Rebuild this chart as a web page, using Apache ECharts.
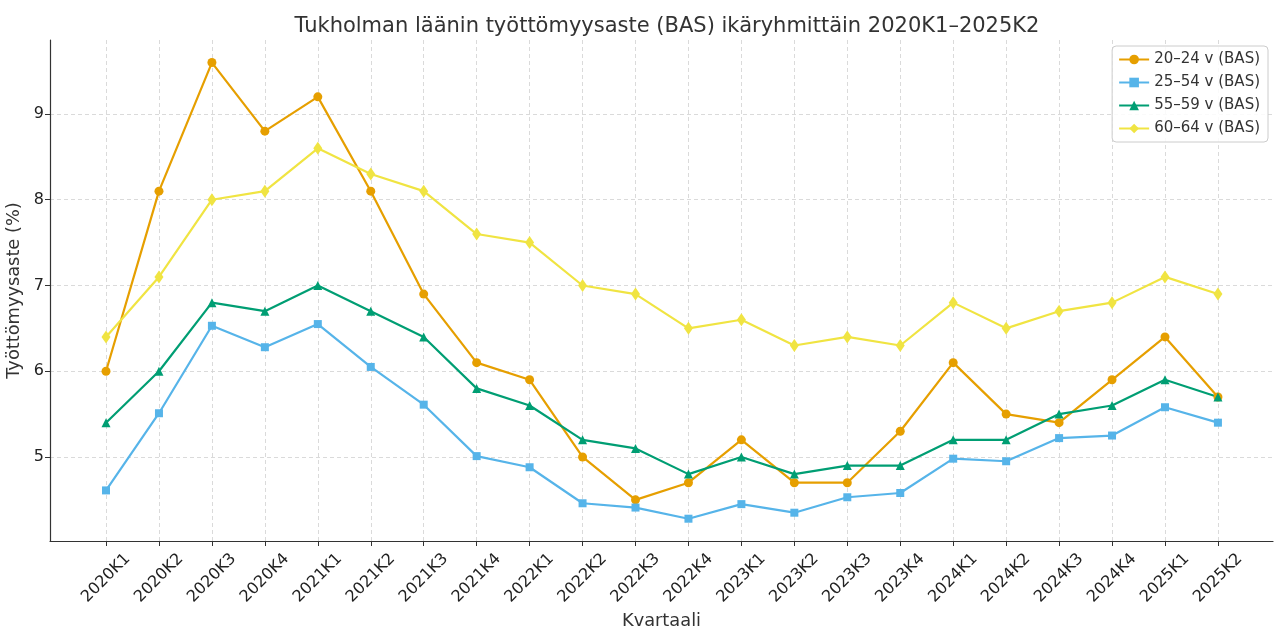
<!DOCTYPE html>
<html>
<head>
<meta charset="utf-8">
<script src="https://cdn.jsdelivr.net/npm/echarts@6/dist/echarts.min.js"></script>
<style>
  html, body { margin: 0; padding: 0; background: #fff; }
  #main { width: 1274px; height: 630px; }
</style>
</head>
<body>
<div id="main"></div>
<script>
// kvartaalit
var quarters = ['2020K1','2020K2','2020K3','2020K4','2021K1','2021K2','2021K3','2021K4',
  '2022K1','2022K2','2022K3','2022K4','2023K1','2023K2','2023K3','2023K4',
  '2024K1','2024K2','2024K3','2024K4','2025K1','2025K2'];
// työttömyysaste (%)
var age2024 = [6.0, 8.1, 9.6, 8.8, 9.2, 8.1, 6.9, 6.1, 5.9, 5.0, 4.5, 4.7, 5.2, 4.7, 4.7, 5.3, 6.1, 5.5, 5.4, 5.9, 6.4, 5.7];
var age2554 = [4.61, 5.51, 6.53, 6.28, 6.55, 6.05, 5.61, 5.01, 4.88, 4.46, 4.41, 4.28, 4.45, 4.35, 4.53, 4.58, 4.98, 4.95, 5.22, 5.25, 5.58, 5.40];
var age5559 = [5.4, 6.0, 6.8, 6.7, 7.0, 6.7, 6.4, 5.8, 5.6, 5.2, 5.1, 4.8, 5.0, 4.8, 4.9, 4.9, 5.2, 5.2, 5.5, 5.6, 5.9, 5.7];
var age6064 = [6.4, 7.1, 8.0, 8.1, 8.6, 8.3, 8.1, 7.6, 7.5, 7.0, 6.9, 6.5, 6.6, 6.3, 6.4, 6.3, 6.8, 6.5, 6.7, 6.8, 7.1, 6.9];
var yTicks = [5, 6, 7, 8, 9];

var font = '"DejaVu Sans", sans-serif';
var xIdx = quarters.map(function (q, i) { return i; });

function pairs(arr) {
  return arr.map(function (v, i) { return [i, v]; });
}
function mkSeries(name, arr, color, symbol, size) {
  return {
    name: name,
    type: 'line',
    data: pairs(arr),
    symbol: symbol,
    symbolSize: size,
    lineStyle: { color: color, width: 2.2 },
    itemStyle: { color: color },
    emphasis: { disabled: true },
    animation: false
  };
}

var chart = echarts.init(document.getElementById('main'));
chart.setOption({
  backgroundColor: '#fff',
  textStyle: { fontFamily: font },
  title: {
    text: 'Tukholman läänin työttömyysaste (BAS) ikäryhmittäin 2020K1–2025K2',
    left: 662, top: 11, textAlign: 'center',
    textStyle: { fontFamily: font, fontSize: 21, fontWeight: 'normal', color: '#333' }
  },
  legend: {
    orient: 'vertical',
    right: 6, top: 46,
    padding: [6, 8, 6, 6],
    itemGap: 8,
    itemWidth: 30, itemHeight: 12,
    backgroundColor: 'rgba(255,255,255,0.85)',
    borderColor: '#ccc', borderWidth: 1, borderRadius: 4,
    textStyle: { fontFamily: font, fontSize: 15, color: '#333' },
    data: ['20–24 v (BAS)', '25–54 v (BAS)', '55–59 v (BAS)', '60–64 v (BAS)']
  },
  grid: { left: 50, right: 1, top: 40, bottom: 89, outerBoundsMode: 'none', containLabel: false },
  xAxis: {
    type: 'value',
    min: -1.058, max: 22.04,
    name: 'Kvartaali', nameLocation: 'middle', nameGap: 71,
    nameTextStyle: { fontFamily: font, fontSize: 17.8, color: '#333' },
    axisLine: { show: true, onZero: false, lineStyle: { color: '#333', width: 1.2 } },
    axisTick: { show: true, customValues: xIdx, length: 5, lineStyle: { color: '#333' } },
    axisLabel: {
      customValues: xIdx, rotate: 45, margin: 37, align: 'center', verticalAlign: 'middle',
      fontFamily: font, fontSize: 16, color: '#222',
      formatter: function (v) { return quarters[Math.round(v)]; }
    },
    splitLine: { show: true, lineStyle: { color: '#d0d0d0', type: [4, 3], width: 0.8 } }
  },
  yAxis: {
    type: 'value',
    min: 4.02, max: 9.863,
    name: 'Työttömyysaste (%)', nameLocation: 'middle', nameGap: 25,
    nameTextStyle: { fontFamily: font, fontSize: 17.8, color: '#333' },
    axisLine: { show: true, onZero: false, lineStyle: { color: '#333', width: 1.2 } },
    axisTick: { show: true, customValues: yTicks, length: 5, lineStyle: { color: '#333' } },
    axisLabel: { customValues: yTicks, margin: 6, fontFamily: font, fontSize: 16, color: '#222' },
    splitLine: { show: true, lineStyle: { color: '#d0d0d0', type: [4, 3], width: 0.8 } }
  },
  series: [
    mkSeries('20–24 v (BAS)', age2024, '#E69F00', 'circle', 9),
    mkSeries('25–54 v (BAS)', age2554, '#56B4E9', 'rect', 8),
    mkSeries('55–59 v (BAS)', age5559, '#009E73', 'triangle', 9),
    mkSeries('60–64 v (BAS)', age6064, '#F0E442', 'diamond', [9, 13])
  ]
});
</script>
</body>
</html>
